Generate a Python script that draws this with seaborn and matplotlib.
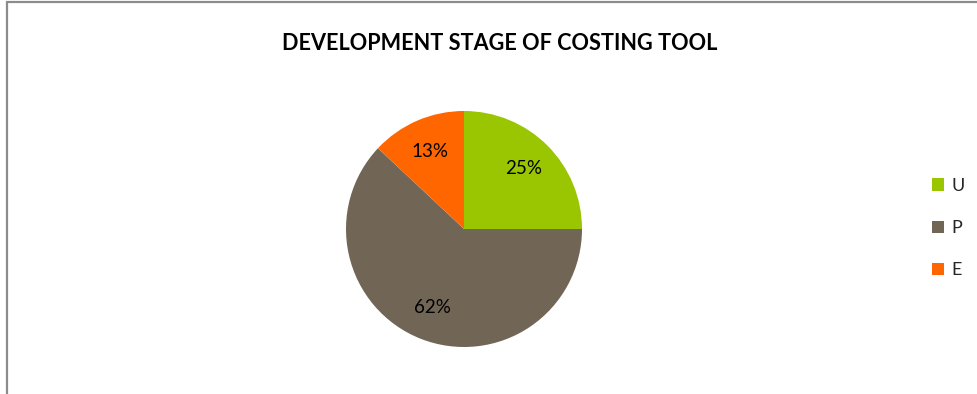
import matplotlib
matplotlib.use("Agg")
import matplotlib.pyplot as plt
import seaborn as sns
from matplotlib.patches import Rectangle

categories = ["U", "P", "E"]
shares = [25, 62, 13]
colors = ["#99C600", "#716656", "#FF6600"]
title = "DEVELOPMENT STAGE OF COSTING TOOL"

sns.set_theme(style="white")
plt.rcParams["font.family"] = ["Lato", "DejaVu Sans"]

W, H = 977, 394
fig = plt.figure(figsize=(W / 100, H / 100), dpi=100)
fig.patch.set_facecolor("white")

# chart frame (top and left edges visible)
fig.patches.append(Rectangle((7 / W, -0.1), 1.2, (H - 2) / H + 0.1,
                             transform=fig.transFigure, fill=False,
                             edgecolor="#8c8c8c", linewidth=1.6, zorder=0))

cx, cy, r = 464, H - 229, 118
ax = fig.add_axes([(cx - r) / W, (cy - r) / H, 2 * r / W, 2 * r / H])
wedges, texts, autotexts = ax.pie(
    shares, colors=colors, startangle=90, counterclock=False,
    autopct=lambda p: f"{p:.0f}%", pctdistance=0.72,
    wedgeprops=dict(linewidth=0),
    textprops=dict(fontsize=13.5, color="black"),
)
ax.set_xlim(-1, 1)
ax.set_ylim(-1, 1)
ax.set_aspect("equal")

fig.text(500 / W, (H - 44) / H, title, ha="center", va="center",
         fontsize=15.6, fontweight="bold", color="black")

fig.legend(wedges, categories, loc="center left",
           bbox_to_anchor=(916 / W, (H - 228) / H), frameon=False,
           fontsize=13, handlelength=0.65, handleheight=0.65,
           handletextpad=0.4, labelspacing=1.45)

fig.savefig("out.png", dpi=100, facecolor="white")
